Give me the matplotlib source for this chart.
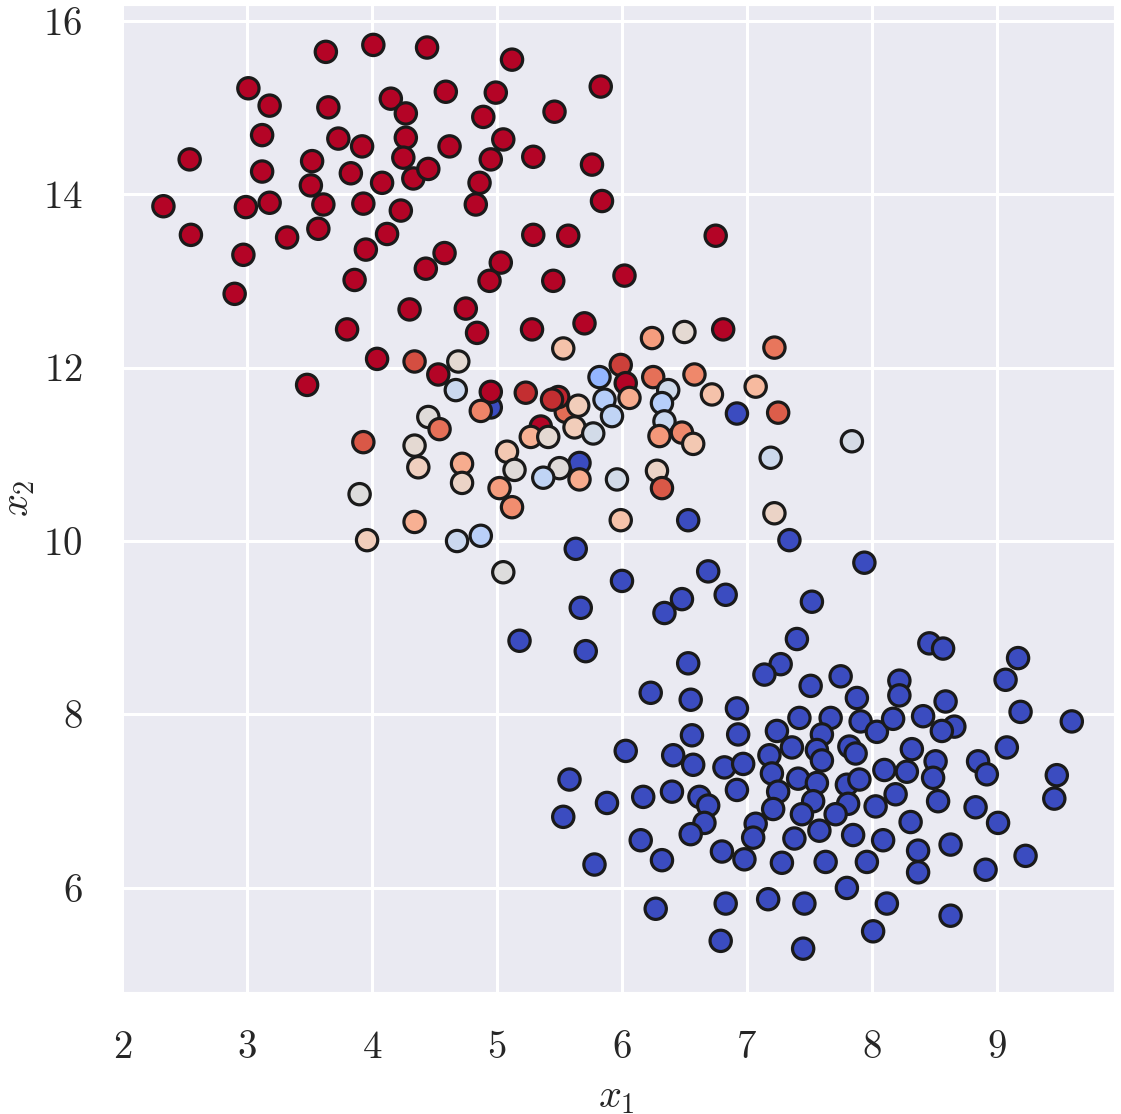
import numpy as np
import matplotlib
matplotlib.use('Agg')
import matplotlib.pyplot as plt
import seaborn as sns
from matplotlib.ticker import FixedLocator, FuncFormatter

# point coordinates (x1, x2) and colour value on the coolwarm scale
# blue cluster
blue_x1 = [7.34, 5.63, 6.00, 6.69, 6.83, 6.48, 6.34, 5.67, 5.18, 5.71,
           7.94, 7.52, 7.40, 8.46, 8.57, 9.17, 6.53, 7.27, 7.14, 6.23,
           6.55, 6.92, 9.07, 7.75, 7.51, 8.22, 8.22, 7.88, 8.59, 9.19,
           9.60, 7.42, 7.67, 7.91, 8.04, 8.17, 8.41, 8.66, 8.56, 7.24,
           7.60, 7.36, 7.56, 7.82, 7.87, 7.60, 8.32, 8.51, 8.85, 8.92,
           9.08, 9.48, 9.46, 8.10, 8.28, 8.49, 7.41, 7.56, 7.80, 7.90,
           7.53, 7.81, 7.71, 7.44, 8.03, 8.19, 8.53, 8.83, 9.01, 8.31,
           7.38, 7.58, 7.85, 8.09, 8.37, 8.37, 8.63, 8.91, 9.23, 7.28,
           7.63, 7.96, 7.80, 7.46, 8.12, 8.63, 8.01, 7.45, 6.56, 6.93,
           7.18, 6.03, 6.41, 6.57, 6.82, 6.97, 7.20, 5.58, 5.88, 6.17,
           6.40, 6.62, 6.69, 6.92, 7.25, 7.21, 5.53, 6.66, 6.55, 7.07,
           7.05, 6.15, 6.32, 6.80, 6.98, 5.78, 6.27, 6.83, 7.17, 6.79,
           6.92, 6.53, 5.66]
blue_x2 = [10.01, 9.91, 9.54, 9.65, 9.38, 9.33, 9.17, 9.23, 8.85, 8.73,
           9.75, 9.30, 8.87, 8.82, 8.76, 8.65, 8.59, 8.58, 8.46, 8.25,
           8.17, 8.07, 8.40, 8.44, 8.33, 8.39, 8.22, 8.19, 8.15, 8.03,
           7.92, 7.96, 7.96, 7.92, 7.80, 7.95, 7.98, 7.86, 7.81, 7.81,
           7.77, 7.62, 7.59, 7.63, 7.55, 7.47, 7.60, 7.46, 7.46, 7.31,
           7.62, 7.30, 7.03, 7.36, 7.34, 7.27, 7.26, 7.21, 7.19, 7.25,
           7.00, 6.97, 6.85, 6.85, 6.94, 7.08, 7.00, 6.93, 6.75, 6.76,
           6.57, 6.66, 6.61, 6.55, 6.43, 6.18, 6.50, 6.21, 6.37, 6.29,
           6.30, 6.30, 6.00, 5.82, 5.82, 5.68, 5.50, 5.30, 7.76, 7.77,
           7.53, 7.58, 7.53, 7.42, 7.39, 7.43, 7.32, 7.25, 6.98, 7.05,
           7.11, 7.05, 6.95, 7.13, 7.11, 6.91, 6.82, 6.75, 6.62, 6.74,
           6.58, 6.55, 6.32, 6.42, 6.33, 6.27, 5.76, 5.82, 5.87, 5.39,
           11.47, 10.24, 10.90]

# red cluster
red_x1 = [3.63, 4.01, 4.44, 3.01, 3.18, 3.65, 4.15, 4.59, 4.27, 3.12,
          3.73, 3.92, 4.27, 4.62, 2.54, 3.52, 4.25, 3.12, 3.83, 4.08,
          4.33, 4.45, 3.51, 2.33, 2.99, 3.18, 3.61, 3.93, 4.23, 2.55,
          3.32, 3.57, 4.12, 3.95, 4.58, 4.43, 2.97, 3.86, 2.90, 4.30,
          4.75, 3.80, 5.12, 4.99, 5.83, 4.89, 5.46, 5.05, 4.95, 5.29,
          5.76, 4.86, 4.83, 5.84, 5.29, 5.57, 6.75, 5.03, 4.94, 5.45,
          6.02, 4.84, 5.28, 5.70, 6.81, 4.04, 3.48, 4.53]
red_x2 = [15.64, 15.72, 15.69, 15.22, 15.02, 15.00, 15.10, 15.18, 14.93, 14.68,
          14.64, 14.55, 14.65, 14.55, 14.40, 14.38, 14.42, 14.26, 14.24, 14.13,
          14.18, 14.29, 14.10, 13.86, 13.85, 13.90, 13.88, 13.89, 13.81, 13.53,
          13.50, 13.60, 13.54, 13.36, 13.32, 13.14, 13.30, 13.01, 12.85, 12.67,
          12.68, 12.44, 15.55, 15.17, 15.24, 14.89, 14.95, 14.63, 14.40, 14.43,
          14.34, 14.13, 13.88, 13.92, 13.53, 13.52, 13.52, 13.21, 13.00, 13.00,
          13.06, 12.40, 12.44, 12.51, 12.44, 12.10, 11.80, 11.92]

# mixed points in the middle (drawn in this order)
mid_x1 = [4.95, 5.35, 5.55, 5.49, 4.95, 5.23, 5.44, 5.99, 6.03,
          4.34, 4.69, 4.67, 4.45, 4.54, 3.93, 4.34, 4.37, 4.72, 4.72,
          3.90, 4.34, 3.96, 4.68, 4.87, 5.05, 5.53, 6.24, 6.50, 7.22,
          4.87, 5.65, 5.82, 6.06, 5.86, 5.92, 6.25, 6.37, 6.32, 6.34,
          6.58, 6.72, 7.07, 7.25, 6.30, 6.48, 6.57, 5.27, 5.41, 5.62,
          5.77, 5.08, 5.14, 5.50, 5.37, 5.66, 5.96, 6.28, 6.32, 7.19,
          5.02, 5.12, 5.99, 7.22, 7.84]
mid_x2 = [11.54, 11.32, 11.49, 11.66, 11.72, 11.71, 11.63, 12.03, 11.82,
          12.07, 12.07, 11.74, 11.43, 11.29, 11.14, 11.10, 10.85, 10.89, 10.67,
          10.54, 10.22, 10.01, 10.00, 10.06, 9.64, 12.22, 12.34, 12.41, 12.23,
          11.50, 11.56, 11.89, 11.65, 11.63, 11.44, 11.89, 11.74, 11.59, 11.38,
          11.92, 11.69, 11.78, 11.48, 11.21, 11.25, 11.12, 11.20, 11.20, 11.31,
          11.24, 11.03, 10.82, 10.84, 10.73, 10.71, 10.71, 10.81, 10.61, 10.96,
          10.61, 10.39, 10.24, 10.32, 11.15]
mid_c = [0.0, 1.0, 0.85, 0.97, 1.0, 0.96, 0.96, 0.93, 1.0,
         0.91, 0.53, 0.43, 0.51, 0.84, 0.89, 0.53, 0.58, 0.70, 0.56,
         0.50, 0.69, 0.59, 0.43, 0.38, 0.50, 0.63, 0.74, 0.53, 0.83,
         0.80, 0.59, 0.27, 0.70, 0.37, 0.40, 0.84, 0.45, 0.37, 0.43,
         0.79, 0.63, 0.66, 0.88, 0.75, 0.79, 0.61, 0.69, 0.53, 0.59,
         0.46, 0.61, 0.51, 0.51, 0.40, 0.70, 0.46, 0.56, 0.89, 0.44,
         0.74, 0.78, 0.63, 0.56, 0.47]

x1 = np.array(blue_x1 + red_x1 + mid_x1)
x2 = np.array(blue_x2 + red_x2 + mid_x2)
c = np.array([0.0] * len(blue_x1) + [1.0] * len(red_x1) + mid_c)

sns.set_style('darkgrid')
plt.rcParams['font.family'] = 'serif'
plt.rcParams['font.serif'] = ['cmr10']
plt.rcParams['mathtext.fontset'] = 'cm'
plt.rcParams['axes.formatter.use_mathtext'] = True

fig = plt.figure(figsize=(11.21, 11.14), dpi=100)
ax = fig.add_axes([0.109, 0.1095, 0.885, 0.886])

ax.scatter(x1, x2, c=c, cmap='coolwarm', vmin=0, vmax=1, s=235,
           edgecolors='#1a1a1a', linewidths=2.3, zorder=3)

ax.set_xlim(2, 9.94)
ax.set_ylim(4.8, 16.18)
ax.xaxis.set_major_locator(FixedLocator([2, 3, 4, 5, 6, 7, 8, 9]))
ax.yaxis.set_major_locator(FixedLocator([6, 8, 10, 12, 14, 16]))
fmt = FuncFormatter(lambda v, p: '$%d$' % v)
ax.xaxis.set_major_formatter(fmt)
ax.yaxis.set_major_formatter(fmt)
ax.tick_params(axis='x', labelsize=28, pad=24)
ax.tick_params(axis='y', labelsize=28, pad=25)
ax.grid(color='white', linewidth=2.2)

ax.set_xlabel('$x_1$', fontsize=29, va='center')
ax.set_ylabel('$x_2$', fontsize=29, va='center')
ax.xaxis.set_label_coords(0.498, -0.107)
ax.yaxis.set_label_coords(-0.104, 0.5)

plt.savefig('out.png', dpi=100)
